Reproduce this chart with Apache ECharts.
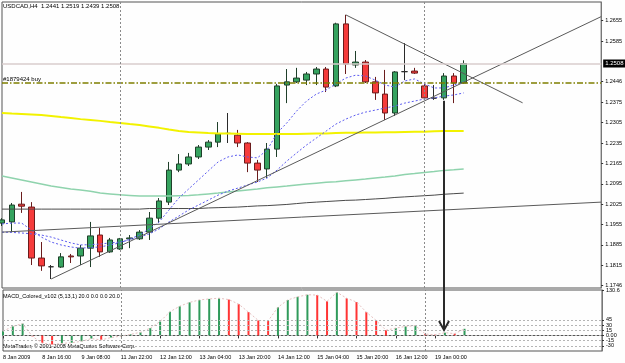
<!DOCTYPE html>
<html>
<head>
<meta charset="utf-8">
<title>USDCAD H4</title>
<script src="https://cdn.jsdelivr.net/npm/echarts@6/dist/echarts.min.js"></script>
<style>
  html, body { margin: 0; padding: 0; background: #fff; }
  #chart { width: 625px; height: 363px; }
</style>
</head>
<body>
<div id="chart"></div>
<script>
// H4 bars, MT4 shows the year on the first label
const times = [
  '8 Jan 2009', '8 Jan 04:00', '8 Jan 08:00', '8 Jan 12:00', '8 Jan 16:00', '8 Jan 20:00',
  '9 Jan 00:00', '9 Jan 04:00', '9 Jan 08:00', '9 Jan 12:00', '9 Jan 16:00', '9 Jan 20:00',
  '11 Jan 22:00', '12 Jan 00:00', '12 Jan 04:00', '12 Jan 08:00', '12 Jan 12:00', '12 Jan 16:00',
  '12 Jan 20:00', '13 Jan 00:00', '13 Jan 04:00', '13 Jan 08:00', '13 Jan 12:00', '13 Jan 16:00',
  '13 Jan 20:00', '14 Jan 00:00', '14 Jan 04:00', '14 Jan 08:00', '14 Jan 12:00', '14 Jan 16:00',
  '14 Jan 20:00', '15 Jan 00:00', '15 Jan 04:00', '15 Jan 08:00', '15 Jan 12:00', '15 Jan 16:00',
  '15 Jan 20:00', '16 Jan 00:00', '16 Jan 04:00', '16 Jan 08:00', '16 Jan 12:00', '16 Jan 16:00',
  '16 Jan 20:00', '18 Jan 22:00', '19 Jan 00:00', '19 Jan 04:00', '19 Jan 08:00', '19 Jan 12:00'
]
const emptySlots = 14 // chart shift on the right

const opens = [1.1960, 1.1964, 1.2025, 1.2015, 1.1840, 1.1810, 1.1809, 1.1847, 1.1847, 1.1874, 1.1919, 1.1861,
  1.1871, 1.1906, 1.1906, 1.1929, 1.1977, 1.2032, 1.2142, 1.2163, 1.2187, 1.2221, 1.2238, 1.2268,
  1.2262, 1.2235, 1.2166, 1.2146, 1.2214, 1.2434, 1.2445, 1.2451, 1.2472, 1.2489, 1.2431, 1.2644,
  1.2503, 1.2513, 1.2445, 1.2403, 1.2338, 1.2480, 1.2482, 1.2431, 1.2389, 1.2390, 1.2465, 1.2441]
const highs = [1.1977, 1.2029, 1.2067, 1.2032, 1.1895, 1.1816, 1.1857, 1.1854, 1.1885, 1.1964, 1.1943, 1.1909,
  1.1909, 1.1919, 1.1936, 1.1998, 1.2046, 1.2170, 1.2197, 1.2201, 1.2228, 1.2245, 1.2307, 1.2338,
  1.2280, 1.2238, 1.2177, 1.2235, 1.2438, 1.2489, 1.2493, 1.2479, 1.2496, 1.2496, 1.2648, 1.2675,
  1.2551, 1.2520, 1.2462, 1.2486, 1.2482, 1.2578, 1.2493, 1.2438, 1.2434, 1.2475, 1.2475, 1.2519]
const lows = [1.1950, 1.1929, 1.1995, 1.1816, 1.1796, 1.1768, 1.1806, 1.1823, 1.1816, 1.1809, 1.1844, 1.1858,
  1.1868, 1.1874, 1.1902, 1.1902, 1.1960, 1.2022, 1.2135, 1.2156, 1.2180, 1.2211, 1.2221, 1.2235,
  1.2221, 1.2135, 1.2101, 1.2115, 1.2187, 1.2372, 1.2441, 1.2434, 1.2434, 1.2410, 1.2427, 1.2472,
  1.2493, 1.2441, 1.2383, 1.2314, 1.2328, 1.2451, 1.2472, 1.2383, 1.2383, 1.2383, 1.2372, 1.2439]
const closes = [1.1971, 1.2022, 1.2018, 1.1840, 1.1813, 1.1810, 1.1844, 1.1844, 1.1874, 1.1916, 1.1861, 1.1902,
  1.1906, 1.1909, 1.1929, 1.1977, 1.2036, 1.2142, 1.2163, 1.2187, 1.2221, 1.2238, 1.2266, 1.2268,
  1.2235, 1.2166, 1.2142, 1.2214, 1.2431, 1.2445, 1.2458, 1.2472, 1.2489, 1.2427, 1.2644, 1.2506,
  1.2513, 1.2445, 1.2407, 1.2338, 1.2479, 1.2480, 1.2475, 1.2390, 1.2389, 1.2465, 1.2441, 1.2508]

// moving averages
const maYellow = [1.2338, 1.2336, 1.2335, 1.2333, 1.2331, 1.2328, 1.2324, 1.2321, 1.2317, 1.2314, 1.2311, 1.2307,
  1.2304, 1.2300, 1.2297, 1.2292, 1.2287, 1.2281, 1.2276, 1.2273, 1.2271, 1.2269, 1.2268, 1.2268,
  1.2267, 1.2266, 1.2266, 1.2266, 1.2266, 1.2266, 1.2266, 1.2267, 1.2268, 1.2268, 1.2269, 1.2270,
  1.2270, 1.2271, 1.2271, 1.2272, 1.2272, 1.2273, 1.2274, 1.2274, 1.2275, 1.2276, 1.2276, 1.2276]
const maGreen = [1.2122, 1.2115, 1.2108, 1.2101, 1.2094, 1.2087, 1.2082, 1.2077, 1.2074, 1.2069, 1.2063, 1.2060,
  1.2057, 1.2055, 1.2053, 1.2053, 1.2053, 1.2053, 1.2054, 1.2055, 1.2057, 1.2060, 1.2063, 1.2067,
  1.2070, 1.2074, 1.2077, 1.2081, 1.2084, 1.2087, 1.2091, 1.2094, 1.2097, 1.2100, 1.2102, 1.2105,
  1.2108, 1.2111, 1.2115, 1.2118, 1.2122, 1.2127, 1.2130, 1.2134, 1.2137, 1.2141, 1.2143, 1.2146]
const maGrey = [1.2008, 1.2008, 1.2008, 1.2008, 1.2008, 1.2008, 1.2008, 1.2008, 1.2008, 1.2008, 1.2008, 1.2008,
  1.2008, 1.2008, 1.2008, 1.2010, 1.2010, 1.2010, 1.2010, 1.2010, 1.2010, 1.2012, 1.2013, 1.2014,
  1.2015, 1.2017, 1.2019, 1.2020, 1.2022, 1.2024, 1.2027, 1.2030, 1.2032, 1.2034, 1.2036, 1.2038,
  1.2039, 1.2041, 1.2043, 1.2045, 1.2048, 1.2050, 1.2052, 1.2054, 1.2056, 1.2059, 1.2061, 1.2063]
const maFast = [1.1957, 1.1960, 1.1960, 1.1936, 1.1912, 1.1895, 1.1885, 1.1878, 1.1874, 1.1876, 1.1878, 1.1885,
  1.1892, 1.1905, 1.1919, 1.1940, 1.1964, 1.2005, 1.2046, 1.2077, 1.2108, 1.2139, 1.2170, 1.2187,
  1.2194, 1.2187, 1.2184, 1.2211, 1.2269, 1.2304, 1.2345, 1.2379, 1.2403, 1.2417, 1.2438, 1.2458,
  1.2468, 1.2465, 1.2451, 1.2434, 1.2427, 1.2448, 1.2455, 1.2438, 1.2424, 1.2424, 1.2434, 1.2445]
const maSlow = [1.1929, 1.1928, 1.1926, 1.1923, 1.1919, 1.1912, 1.1902, 1.1892, 1.1885, 1.1886, 1.1888, 1.1892,
  1.1895, 1.1902, 1.1912, 1.1923, 1.1940, 1.1964, 1.1984, 1.2005, 1.2022, 1.2039, 1.2056, 1.2070,
  1.2080, 1.2091, 1.2101, 1.2115, 1.2142, 1.2173, 1.2201, 1.2228, 1.2252, 1.2276, 1.2300, 1.2317,
  1.2331, 1.2341, 1.2348, 1.2355, 1.2362, 1.2372, 1.2379, 1.2386, 1.2390, 1.2396, 1.2400, 1.2407]

// MACD_Colored (5,13,1) histogram
const macdHist = [12, 26, 34, -3, -22, -26, -23, -21, -17, -9, -13, -6,
  -2, 3, 9, 21, 40, 68, 84, 95, 102, 105, 107, 103,
  90, 67, 43, 42, 81, 102, 111, 117, 116, 98, 124, 107,
  96, 67, 43, 15, 21, 26, 28, 4, 2, 8, 5, 19]

const priceTicks = [1.1746, 1.1815, 1.1885, 1.1955, 1.2025, 1.2095, 1.2165, 1.2235, 1.2305, 1.2375, 1.2446, 1.2585, 1.2655]
const macdTicks = [-44.8, -30, -15, 0, 15, 30, 45, 130.6]
const macdLevels = [45, 30, 15, 0, -15, -30]
const bidPrice = 1.2508
const orderPrice = 1.2441
const separators = [12, 43]

// drawn objects: [bar index, price]
const trendUp = [[5, 1.1768], [61, 1.2669]]
const trendDown = [[35, 1.2675], [53, 1.2373]]
const trendFlat = [[0, 1.1929], [61, 1.2032]]
const arrow = [[45, 1.2380, 1.1593]]

const titleText = 'USDCAD,H4  1.2441 1.2519 1.2439 1.2508'
const orderText = '#1879424 buy'
const macdTitle = 'MACD_Colored_v102 (5,13,1) 20.0 0.0 0.0 20.0'
const copyText = 'MetaTrader, \u00a9 2001-2008 MetaQuotes Software Corp.'

const font = 'Liberation Sans, Arial, sans-serif'
const cats = times.concat(new Array(emptySlots).fill(''))
const candles = opens.map((o, i) => [o, closes[i], lows[i], highs[i]])
const showIdx = (i) => i % 4 === 0 && i < times.length
const sepStyle = { color: '#8a8a8a', width: 1, type: [2, 2] }

const chart = echarts.init(document.getElementById('chart'))

const trendSeries = (data) => ({
  type: 'line',
  xAxisIndex: 0,
  yAxisIndex: 0,
  data: data,
  symbol: 'none',
  silent: true,
  lineStyle: { color: '#5a5a5a', width: 1 },
  z: 4
})

const maSeries = (data, color, width, type) => ({
  type: 'line',
  xAxisIndex: 0,
  yAxisIndex: 0,
  data: data,
  symbol: 'none',
  silent: true,
  lineStyle: { color, width, type },
  z: 3
})

// price levels and week separators hang off a line series
const levelsHolder = maSeries(maGrey, '#4a4a4a', 1, 'solid')
levelsHolder.markLine = {
  silent: true,
  symbol: 'none',
  precision: 4,
  data: [
    {
      yAxis: bidPrice,
      lineStyle: { color: '#d9cccc', width: 1.5, type: 'solid' },
      label: {
        show: true, position: 'end', distance: 2, formatter: bidPrice.toFixed(4),
        backgroundColor: '#000', color: '#fff', fontSize: 6, padding: [1, 2, 1, 2], fontFamily: font
      }
    },
    {
      yAxis: orderPrice,
      lineStyle: { color: '#7f7f00', width: 1.5, type: [6, 2, 1.5, 2] },
      label: { show: true, position: 'insideStartTop', distance: 1, formatter: orderText, color: '#000', fontSize: 6, fontFamily: font }
    }
  ].concat(separators.map((s) => ({ xAxis: s, lineStyle: sepStyle, label: { show: false } })))
}

const option = {
  animation: false,
  backgroundColor: '#fefefe',
  textStyle: { fontFamily: font },
  graphic: [
    { type: 'text', left: 3, top: 3, style: { text: titleText, fontSize: 6, fill: '#000', fontFamily: font } },
    { type: 'text', left: 3, top: 293, style: { text: macdTitle, fontSize: 5.5, fill: '#000', fontFamily: font } },
    { type: 'text', left: 3, top: 343, style: { text: copyText, fontSize: 5.5, fill: '#000', fontFamily: font } }
  ],
  grid: [
    { left: 2, right: 23, top: 2, height: 286, show: true, borderColor: '#555', borderWidth: 1 },
    { left: 2, right: 23, top: 290, height: 61, show: true, borderColor: '#555', borderWidth: 1 }
  ],
  xAxis: [
    {
      type: 'category', gridIndex: 0, data: cats, boundaryGap: false,
      axisLine: { show: false }, axisTick: { show: false }, axisLabel: { show: false }, splitLine: { show: false }
    },
    {
      type: 'category', gridIndex: 1, data: cats, boundaryGap: false,
      axisLine: { show: true, lineStyle: { color: '#555' } },
      axisTick: { show: true, interval: showIdx, length: 3, lineStyle: { color: '#333' } },
      axisLabel: { show: true, interval: showIdx, fontSize: 5.5, color: '#000', align: 'left', margin: 3, fontFamily: font },
      splitLine: { show: false }
    }
  ],
  yAxis: [
    {
      type: 'value', gridIndex: 0, position: 'right', min: 1.17371, max: 1.27192,
      axisLine: { show: true, lineStyle: { color: '#777' } },
      axisTick: { show: true, length: 2, customValues: priceTicks, lineStyle: { color: '#333' } },
      axisLabel: { customValues: priceTicks, fontSize: 5.5, color: '#000', margin: 4, fontFamily: font, formatter: (v) => v.toFixed(4) },
      splitLine: { show: false }
    },
    {
      type: 'value', gridIndex: 1, position: 'right', min: -44.8, max: 130.6,
      axisLine: { show: true, lineStyle: { color: '#777' } },
      axisTick: { show: true, length: 2, customValues: macdTicks, lineStyle: { color: '#333' } },
      axisLabel: { customValues: macdTicks, fontSize: 5.5, color: '#000', margin: 4, fontFamily: font, formatter: (v) => (v === 0 ? '0.00' : String(v)) },
      splitLine: { show: false }
    }
  ],
  series: [
    {
      type: 'candlestick',
      xAxisIndex: 0,
      yAxisIndex: 0,
      data: candles,
      barWidth: 6,
      z: 2,
      itemStyle: {
        color: '#35a35f',
        color0: '#f53b3b',
        borderColor: '#1f3f2a',
        borderColor0: '#6a1c1c',
        borderColorDoji: '#2a2a2a',
        borderWidth: 1
      }
    },
    maSeries(maYellow, '#f2f200', 2, 'solid'),
    maSeries(maGreen, '#8fd3ad', 1.5, 'solid'),
    levelsHolder,
    maSeries(maFast, '#5c5cf0', 1, [2, 2]),
    maSeries(maSlow, '#5c5cf0', 1, [2, 2]),
    trendSeries(trendUp),
    trendSeries(trendDown),
    trendSeries(trendFlat),
    {
      type: 'custom',
      xAxisIndex: 0,
      yAxisIndex: 0,
      data: arrow,
      clip: false,
      silent: true,
      z: 10,
      renderItem: (params, api) => {
        const a = api.coord([api.value(0), api.value(1)])
        const b = api.coord([api.value(0), api.value(2)])
        const style = { stroke: '#2a2a2a', lineWidth: 2, fill: null }
        return {
          type: 'group',
          children: [
            { type: 'line', shape: { x1: a[0], y1: a[1], x2: b[0], y2: b[1] }, style },
            { type: 'polyline', shape: { points: [[b[0] - 5, b[1] - 9], [b[0], b[1]], [b[0] + 5, b[1] - 9]] }, style }
          ]
        }
      }
    },
    {
      type: 'bar',
      xAxisIndex: 1,
      yAxisIndex: 1,
      data: macdHist,
      barWidth: 2,
      z: 2,
      itemStyle: {
        color: (p) => (p.dataIndex > 0 && macdHist[p.dataIndex] < macdHist[p.dataIndex - 1] ? '#ff3434' : '#2f9a5a')
      },
      markLine: {
        silent: true,
        symbol: 'none',
        label: { show: false },
        data: macdLevels.map((l) => ({ yAxis: l, lineStyle: { color: '#b4b4b4', width: 1, type: [2, 2] } }))
          .concat(separators.map((s) => ({ xAxis: s, lineStyle: sepStyle })))
      }
    },
    {
      type: 'line',
      xAxisIndex: 1,
      yAxisIndex: 1,
      data: macdHist,
      symbol: 'none',
      silent: true,
      z: 3,
      lineStyle: { color: '#e6c0c0', width: 1, type: [2, 2] }
    }
  ]
}

chart.setOption(option)
</script>
</body>
</html>
